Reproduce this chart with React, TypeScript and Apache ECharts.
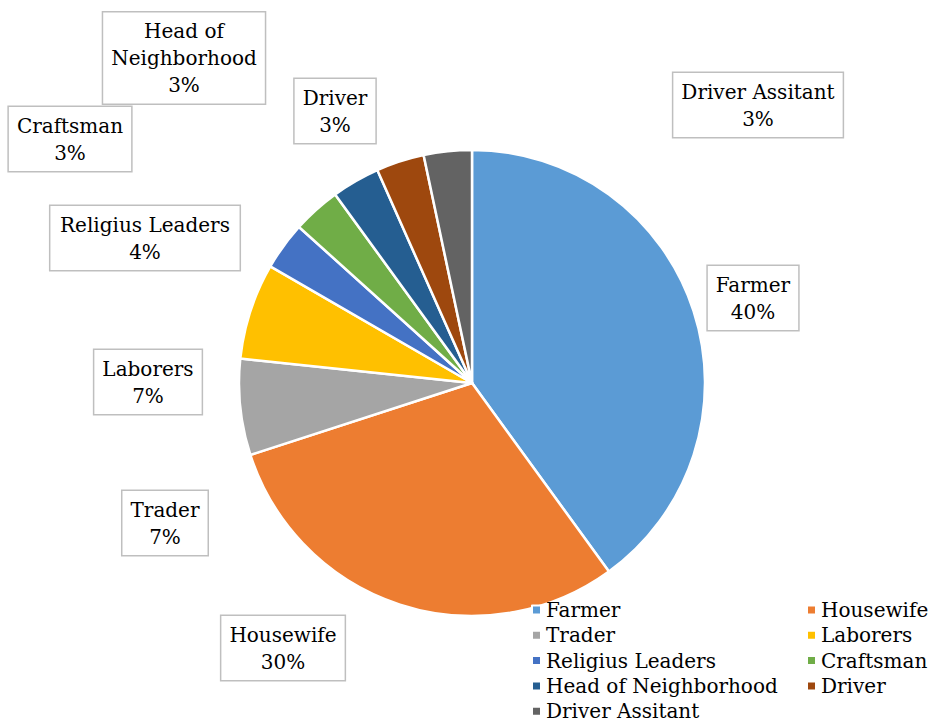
import React, { useEffect, useRef } from "react";
import * as echarts from "echarts";

const categories = [
  "Farmer",
  "Housewife",
  "Trader",
  "Laborers",
  "Religius Leaders",
  "Craftsman",
  "Head of Neighborhood",
  "Driver",
  "Driver Assitant",
];
// slice sizes
const values = [40, 30, 6.67, 6.67, 3.33, 3.33, 3.33, 3.33, 3.33];
// percentages as printed in the reference labels
const labelPercents = [40, 30, 7, 7, 4, 3, 3, 3, 3];
const colors = [
  "#5B9BD5",
  "#ED7D31",
  "#A5A5A5",
  "#FFC000",
  "#4472C4",
  "#70AD47",
  "#255E91",
  "#9E480E",
  "#636363",
];
const legendLeftCol = ["Farmer", "Trader", "Religius Leaders", "Head of Neighborhood", "Driver Assitant"];
const legendRightCol = ["Housewife", "Laborers", "Craftsman", "Driver"];
// label box centers (layout positions, px)
const labelCenters: [number, number][] = [
  [753, 298],
  [283, 648],
  [165, 523],
  [148, 382],
  [145, 238],
  [70, 139],
  [184, 58],
  [335, 111],
  [758, 105],
];

const FONT = "DejaVu Serif";

export default function App() {
  const ref = useRef<HTMLDivElement>(null);
  useEffect(() => {
    if (!ref.current) return;
    const chart = echarts.init(ref.current, null, { renderer: "svg" });
    const legendText = { fontFamily: FONT, fontSize: 20, color: "#000", lineHeight: 20 };
    chart.setOption({
      animation: false,
      color: colors,
      legend: [
        {
          orient: "vertical",
          left: 531,
          top: 600,
          padding: 0,
          itemWidth: 9,
          itemHeight: 9,
          itemGap: 5.3,
          icon: "rect",
          data: legendLeftCol,
          textStyle: legendText,
          selectedMode: false,
        },
        {
          orient: "vertical",
          left: 806,
          top: 600,
          padding: 0,
          itemWidth: 9,
          itemHeight: 9,
          itemGap: 5.3,
          icon: "rect",
          data: legendRightCol,
          textStyle: legendText,
          selectedMode: false,
        },
      ],
      series: [
        {
          type: "pie",
          center: [472, 383],
          radius: 233,
          startAngle: 90,
          clockwise: true,
          itemStyle: { borderColor: "#fff", borderWidth: 2.5 },
          labelLine: { show: false },
          label: {
            show: true,
            position: "outside",
            formatter: (p: any) =>
              (p.name === "Head of Neighborhood" ? "Head of\nNeighborhood" : p.name) +
              "\n" +
              labelPercents[p.dataIndex] +
              "%",
            fontFamily: FONT,
            fontSize: 20,
            lineHeight: 27,
            color: "#000",
            backgroundColor: "#fff",
            borderColor: "#bfbfbf",
            borderWidth: 1.5,
            padding: [5, 8],
            align: "center",
          },
          labelLayout: (params: any) => {
            const c = labelCenters[params.dataIndex];
            return { x: c[0], y: c[1], align: "center", verticalAlign: "middle" };
          },
          data: categories.map((name, i) => ({ name, value: values[i] })),
        },
      ],
    });
    return () => chart.dispose();
  }, []);
  return (
    <div
      ref={ref}
      style={{ position: "fixed", left: 0, top: 0, width: 931, height: 722, background: "#fff" }}
    />
  );
}
